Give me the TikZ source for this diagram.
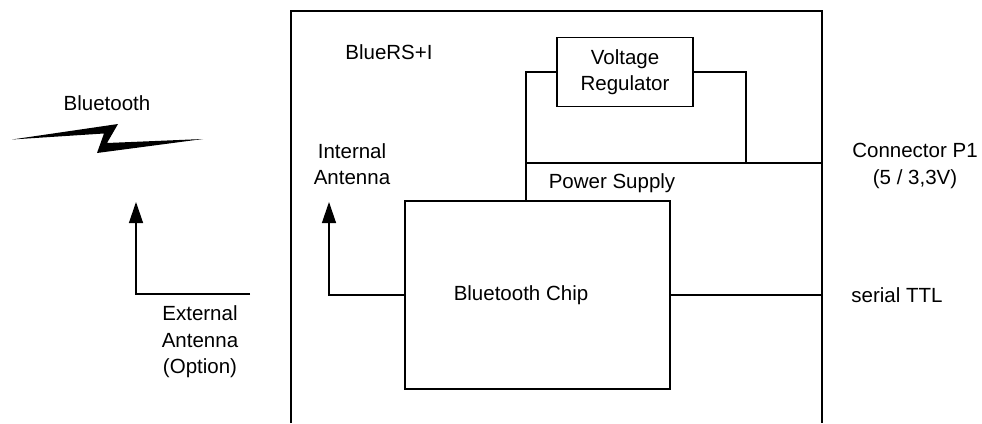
\documentclass[tikz,border=0pt]{standalone}
\usepackage{fontspec}
\setmainfont{Liberation Sans}
\usetikzlibrary{arrows.meta}
\begin{document}
\begin{tikzpicture}[x=1pt,y=-1pt,
  lbl/.style={inner sep=0pt,align=center,font=\fontsize{20.5}{26.5}\selectfont},
  box/.style={draw,line width=1.2pt,inner sep=0pt,align=center,font=\fontsize{20.5}{26}\selectfont},
  thin/.style={line width=1.2pt},
  thick/.style={line width=2.2pt},
  ant/.style={line width=1.3pt,-{Triangle[length=21pt,width=14pt]}}]
\useasboundingbox (0,0) rectangle (982,423);
% module frame (open at the bottom)
\coordinate (fbl) at (291,423);
\coordinate (ftl) at (291,11);
\coordinate (ftr) at (822,11);
\coordinate (fbr) at (822,423);
\draw[line width=1.4pt] (fbl) -- (ftl) -- (ftr) -- (fbr);
% boxes
\node[box,minimum width=136pt,minimum height=69pt] (vr) at (625,72) {Voltage\\Regulator};
\node[box,minimum width=265pt,minimum height=188pt] (chip) at (537.5,295) {};
\node[lbl] (chiplbl) at (521,295) {Bluetooth Chip};
% labels
\node[lbl] (blue) at (107,103) {Bluetooth};
\node[lbl] (module) at (389,52) {BlueRS+I};
\node[lbl] (intant) at (352,164) {Internal\\Antenna};
\node[lbl] (psu) at (612,183) {Power Supply};
\node[lbl] (conn) at (915,166) {Connector P1\\(5 / 3,3V)};
\node[lbl] (ttl) at (897,295) {serial TTL};
\node[lbl] (extant) at (200,342) {External\\Antenna\\(Option)};
% power supply wiring
\coordinate (psl) at (526,163);
\coordinate (psr) at (822,163);
\coordinate (vrr) at (746,163);
\draw[thin] (vr.west) -| (psl);
\draw[thick] (vr.east) -| (vrr);
\draw[thick] (psl) -- (psr);
\draw[thin] (psl) -- (chip.north -| psl);
% serial TTL
\coordinate (ttlend) at (822,295);
\draw[thick] (chip.east) -- (ttlend);
% internal antenna
\coordinate (iatip) at (329,202);
\draw[ant] (chip.west) -| (iatip);
% external antenna
\coordinate (eastart) at (250,294);
\coordinate (eatip) at (136,202);
\draw[ant] (eastart) -| (eatip);
% lightning symbol
\fill (12,139.5) -- (118,124) -- (107,143) -- (203,139) -- (97,153) -- (104,133.5) -- cycle;
\end{tikzpicture}
\end{document}
